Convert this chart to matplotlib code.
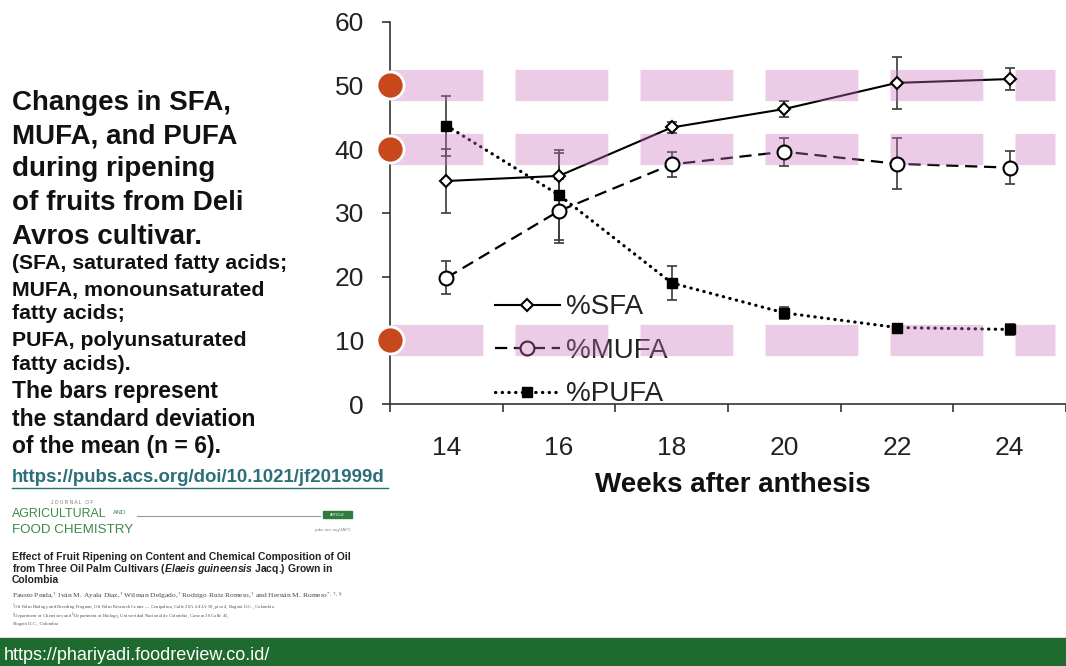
import numpy as np
import matplotlib
matplotlib.use('Agg')
import matplotlib.pyplot as plt
from matplotlib.lines import Line2D
from matplotlib.patches import Rectangle

# data
weeks = [14, 16, 18, 20, 22, 24]
sfa = [35.0, 35.8, 43.4, 46.3, 50.4, 51.0]
sfa_sd = [5.0, 3.6, 0.8, 1.2, 4.1, 1.7]
mufa = [19.8, 30.3, 37.6, 39.6, 37.7, 37.1]
mufa_sd = [2.6, 5.0, 1.9, 2.2, 4.0, 2.6]
pufa = [43.7, 32.8, 19.0, 14.3, 12.0, 11.7]
pufa_sd = [4.7, 7.0, 2.7, 1.0, 0.5, 0.8]
band_levels = [50, 40, 10]
yticks = [0, 10, 20, 30, 40, 50, 60]

title_lines = ['Changes in SFA,', 'MUFA, and PUFA', 'during ripening',
               'of fruits from Deli', 'Avros cultivar.']
note_lines = ['(SFA, saturated fatty acids;', 'MUFA, monounsaturated', 'fatty acids;',
              'PUFA, polyunsaturated', 'fatty acids).']
bars_lines = ['The bars represent', 'the standard deviation', 'of the mean (n = 6).']

W, H = 1066, 666
plt.rcParams['font.family'] = ['Liberation Sans', 'DejaVu Sans']
plt.rcParams['mathtext.fontset'] = 'custom'
plt.rcParams['mathtext.it'] = 'Liberation Sans:italic:bold'
plt.rcParams['mathtext.rm'] = 'Liberation Serif'

def fx(x): return x/W
def fy(y): return 1 - y/H

fig = plt.figure(figsize=(W/100, H/100), dpi=100)
ax = fig.add_axes([fx(390), fy(404), fx(1066)-fx(390), fy(21.7)-fy(404)])

x = np.arange(len(weeks))
axis_col = '#333333'
err_kw = dict(fmt='none', ecolor='#3a3a3a', elinewidth=1.2, capsize=3.6, capthick=1.2, zorder=2)

ax.errorbar(x, sfa, yerr=sfa_sd, **err_kw)
ax.errorbar(x, mufa, yerr=mufa_sd, **err_kw)
ax.errorbar(x, pufa, yerr=pufa_sd, **err_kw)

ax.plot(x, sfa, color='black', lw=1.5, zorder=2)
ax.plot(x, mufa, color='black', lw=1.6, dashes=(5.5, 3), zorder=2)
ax.plot(x, pufa, color='black', lw=2.3, dashes=(0.1, 2.0), dash_capstyle='round', zorder=2)

ax.plot(x, sfa, ls='none', marker='D', ms=6.5, mfc='white', mec='black', mew=1.5, zorder=4)
ax.plot(x, mufa, ls='none', marker='o', ms=10, mfc='white', mec='black', mew=1.5, zorder=4)
ax.plot(x, pufa, ls='none', marker='s', ms=7, mfc='black', mec='black', zorder=4)

ax.set_xlim(-0.5, 5.4)
ax.set_ylim(0, 60)

# pink dashed bands, laid over the lines
for lev in band_levels:
    ax.plot([-0.5, 5.4], [lev, lev], color=(200/255, 112/255, 186/255), alpha=0.36,
            lw=22.5, dashes=(2.97, 1.03), solid_capstyle='butt', dash_capstyle='butt', zorder=3)
ax.scatter([-0.5]*len(band_levels), band_levels, s=380, color='#c8481e', edgecolor='white',
           linewidth=2, zorder=6, clip_on=False)

ax.spines['top'].set_visible(False)
ax.spines['right'].set_visible(False)
for s in ['left', 'bottom']:
    ax.spines[s].set_color(axis_col)
    ax.spines[s].set_linewidth(1.2)

ax.set_yticks(yticks)
ax.tick_params(axis='y', direction='out', length=5.8, width=1.2, color=axis_col,
               labelsize=19, labelcolor='#222222', pad=13)
ax.set_xticks(np.arange(len(weeks)+1) - 0.5)
ax.set_xticklabels([])
ax.set_xticks(x, minor=True)
ax.set_xticklabels([str(w) for w in weeks], minor=True)
ax.tick_params(axis='x', which='major', direction='out', length=5.8, width=1.2, color=axis_col)
ax.tick_params(axis='x', which='minor', length=0, labelsize=19, labelcolor='#222222', pad=23)

ax.set_xlabel('Weeks after anthesis', fontsize=20, fontweight='bold', color='#111111')
ax.xaxis.set_label_coords(0.507, -0.178)

handles = [
    Line2D([], [], color='black', lw=1.5, marker='D', ms=6.5, mfc='white', mec='black', mew=1.5),
    Line2D([], [], color='black', lw=1.6, dashes=(5.5, 3), marker='o', ms=10, mfc='white', mec='black', mew=1.5),
    Line2D([], [], color='black', lw=2.3, dashes=(0.1, 2.0), dash_capstyle='round',
           marker='s', ms=7, mfc='black', mec='black'),
]
leg = ax.legend(handles, ['%SFA', '%MUFA', '%PUFA'], loc='upper left', bbox_to_anchor=(0.155, 0.287),
                frameon=False, fontsize=20, handlelength=2.35, handletextpad=0.2,
                labelspacing=0.63, borderpad=0, borderaxespad=0)
for t in leg.get_texts():
    t.set_color('#222222')
leg.set_zorder(2.5)

# left-hand caption
title_y = [103, 136, 169, 203, 237]
for t, y in zip(title_lines, title_y):
    fig.text(fx(12), fy(y), t, fontsize=20, fontweight='bold', color='#111111', va='center')
note_y = [264, 290, 314, 341, 365]
for t, y in zip(note_lines, note_y):
    fig.text(fx(12), fy(y), t, fontsize=15.3, fontweight='bold', color='#111111', va='center')
bars_y = [392, 419, 446]
for t, y in zip(bars_lines, bars_y):
    fig.text(fx(12), fy(y), t, fontsize=16.5, fontweight='bold', color='#111111', va='center')

fig.text(fx(12), fy(478), 'https://pubs.acs.org/doi/10.1021/jf201999d', fontsize=13.4,
         fontweight='bold', color='#2b6f78', va='center')
fig.add_artist(Line2D([fx(12), fx(388)], [fy(488), fy(488)], color='#2b6f78', lw=1))

# journal snippet
green = '#3b8a48'
fig.text(fx(72), fy(503), 'J O U R N A L   O F', fontsize=3.5, color='#777777', ha='center', va='center')
fig.text(fx(12), fy(514), 'AGRICULTURAL', fontsize=8.9, color=green, va='center')
fig.text(fx(113), fy(513), 'AND', fontsize=4.6, color=green, va='center')
fig.text(fx(12), fy(530), 'FOOD CHEMISTRY', fontsize=9.6, color=green, va='center')
fig.add_artist(Line2D([fx(137), fx(320)], [fy(516), fy(516)], color='#999999', lw=0.8))
fig.patches.append(Rectangle((fx(323), fy(518)), fx(352)-fx(323), (518-511)/H,
                             transform=fig.transFigure, color='#2e7d3c'))
fig.text(fx(337.5), fy(514.5), 'ARTICLE', fontsize=2.6, color='white', ha='center', va='center')
fig.text(fx(352), fy(530), 'pubs.acs.org/JAFC', fontsize=3.2, color='#888888', ha='right', va='center')

paper_title = ['Effect of Fruit Ripening on Content and Chemical Composition of Oil',
               'from Three Oil Palm Cultivars ($\\it{Elaeis\\ guineensis}$ Jacq.) Grown in',
               'Colombia']
for t, y in zip(paper_title, [557, 568.5, 580]):
    fig.text(fx(12), fy(y), t, fontsize=7.5, fontweight='bold', color='#222222', va='center')
fig.text(fx(12), fy(597), 'Fausto Prada,$^{\\dagger}$ Iván M. Ayala Díaz,$^{\\dagger}$ Wilman Delgado,$^{\\dagger}$ '
         'Rodrigo Ruiz Romero,$^{\\dagger}$ and Hernán M. Romero$^{*,\\dagger,\\S}$',
         fontsize=5.4, family='Liberation Serif', color='#444444', va='center')
affil = ['$^{\\dagger}$Oil Palm Biology and Breeding Program, Oil Palm Research Center \u2014 Cenipalma, Calle 20A # 43A-50, piso 4, Bogotá D.C., Colombia',
         '$^{\\ddagger}$Department of Chemistry and $^{\\S}$Department of Biology, Universidad Nacional de Colombia, Carrera 30 Calle 45,',
         ' Bogotá D.C., Colombia']
for t, y in zip(affil, [607, 615.5, 624]):
    fig.text(fx(12), fy(y), t, fontsize=3.4, family='Liberation Serif', color='#555555', va='center')

# footer bar
fig.patches.append(Rectangle((0, 0), 1, 28/H, transform=fig.transFigure, color='#1f6a2f'))
fig.text(fx(4), fy(655), 'https://phariyadi.foodreview.co.id/', fontsize=13, color='white', va='center')

fig.savefig('out.png', dpi=100)
